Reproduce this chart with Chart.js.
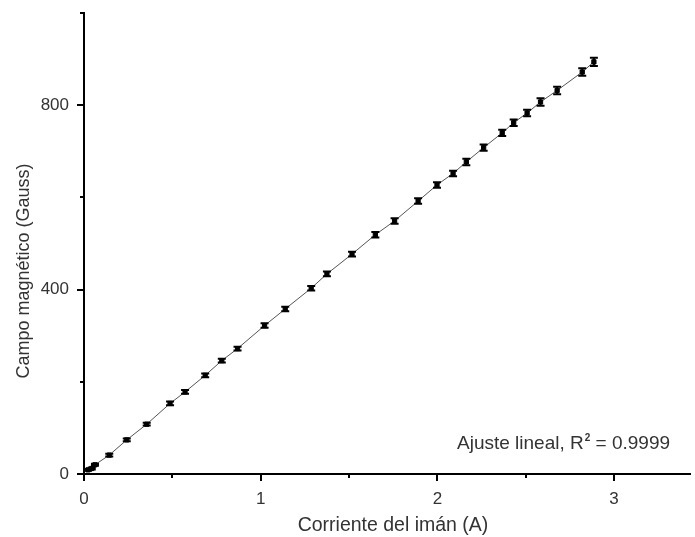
<!DOCTYPE html>
<html>
<head>
<meta charset="utf-8">
<script src="https://cdn.jsdelivr.net/npm/chart.js@4/dist/chart.umd.min.js"></script>
<style>
  html, body { margin: 0; padding: 0; background: #fff; }
  #wrap { width: 695px; height: 537px; }
</style>
</head>
<body>
<div id="wrap"><canvas id="fieldChart" width="695" height="537"></canvas></div>
<script>
// Datos
var corriente = [0.023, 0.044, 0.062, 0.143, 0.242, 0.355, 0.487, 0.572, 0.686, 0.780,
                 0.869, 1.022, 1.139, 1.286, 1.375, 1.517, 1.649, 1.758, 1.891, 1.998,
                 2.089, 2.164, 2.262, 2.367, 2.432, 2.508, 2.584, 2.678, 2.820, 2.886];
var campo = [9, 12, 20, 41, 74, 108, 153, 178, 214, 246,
             272, 322, 358, 403, 434, 477, 519, 549, 592, 627,
             652, 677, 708, 740, 762, 783, 807, 832, 872, 894];
var errorCampo = [2, 2, 2, 3, 3, 3, 4, 4, 4, 4,
                  4, 5, 5, 5, 5, 5, 6, 6, 6, 6,
                  6, 7, 7, 7, 7, 7, 8, 8, 8, 9];

var xMajor = [0, 1, 2, 3];
var xMinor = [0.5, 1.5, 2.5];
var yMajor = [0, 400, 800];
var yMinor = [200, 600, 1000];

var FONT = "'Liberation Sans', Arial, sans-serif";

// ticks hacia afuera, mayores y menores
var tickMarks = {
    id: 'tickMarks',
    afterDraw: function(chart) {
        var c = chart.ctx, xs = chart.scales.x, ys = chart.scales.y;
        var a = chart.chartArea;
        c.save();
        c.strokeStyle = '#000';
        c.lineWidth = 2;
        c.beginPath();
        xMajor.forEach(function(v) { var p = Math.round(xs.getPixelForValue(v)); c.moveTo(p, a.bottom); c.lineTo(p, a.bottom + 7); });
        xMinor.forEach(function(v) { var p = Math.round(xs.getPixelForValue(v)); c.moveTo(p, a.bottom); c.lineTo(p, a.bottom + 4); });
        yMajor.forEach(function(v) { var p = Math.round(ys.getPixelForValue(v)); c.moveTo(a.left, p); c.lineTo(a.left - 7, p); });
        yMinor.forEach(function(v) { var p = Math.round(ys.getPixelForValue(v)); c.moveTo(a.left, p); c.lineTo(a.left - 4, p); });
        c.stroke();

        // titulos de ejes y anotacion
        c.fillStyle = '#333';
        c.textAlign = 'center';
        c.textBaseline = 'alphabetic';
        c.font = '19.5px ' + FONT;
        c.fillText('Corriente del imán (A)', 393, 531);
        c.save();
        c.translate(29, 271);
        c.rotate(-Math.PI / 2);
        c.font = '18px ' + FONT;
        c.fillText('Campo magnético (Gauss)', 0, 0);
        c.restore();

        c.textAlign = 'left';
        var t1 = 'Ajuste lineal, R', t2 = ' = 0.9999';
        var x0 = 457, y0 = 449;
        c.font = '19px ' + FONT;
        c.fillText(t1, x0, y0);
        var w1 = c.measureText(t1).width;
        c.font = 'bold 10px ' + FONT;
        c.fillText('2', x0 + w1 + 1, y0 - 8);
        var w2 = c.measureText('2').width;
        c.font = '19px ' + FONT;
        c.fillText(t2, x0 + w1 + w2 + 1, y0);
        c.restore();
    }
};

// barras de error
var errorBars = {
    id: 'errorBars',
    afterDatasetsDraw: function(chart) {
        var c = chart.ctx, xs = chart.scales.x, ys = chart.scales.y;
        c.save();
        c.strokeStyle = '#000';
        c.lineWidth = 2;
        corriente.forEach(function(xv, i) {
            var px = xs.getPixelForValue(xv);
            var top = ys.getPixelForValue(campo[i] + errorCampo[i]);
            var bot = ys.getPixelForValue(campo[i] - errorCampo[i]);
            c.beginPath();
            c.moveTo(px, top); c.lineTo(px, bot);
            c.moveTo(px - 4, top); c.lineTo(px + 4, top);
            c.moveTo(px - 4, bot); c.lineTo(px + 4, bot);
            c.stroke();
        });
        c.restore();
    }
};

var points = corriente.map(function(x, i) { return { x: x, y: campo[i] }; });

var ctx = document.getElementById('fieldChart').getContext('2d');
var fieldChart = new Chart(ctx, {
    type: 'scatter',
    data: {
        datasets: [{
            label: 'Campo',
            data: points,
            showLine: true,
            borderColor: '#555',
            borderWidth: 1,
            tension: 0,
            pointStyle: 'rect',
            pointRadius: 3,
            pointBackgroundColor: '#000',
            pointBorderColor: '#000',
            pointBorderWidth: 1
        }]
    },
    options: {
        responsive: false,
        animation: false,
        layout: { padding: { top: 13, right: 0, left: 0, bottom: 0 } },
        plugins: {
            legend: { display: false },
            tooltip: { enabled: false }
        },
        scales: {
            x: {
                type: 'linear',
                min: 0,
                max: 3.43,
                afterBuildTicks: function(s) { s.ticks = xMajor.map(function(v) { return { value: v }; }); },
                afterFit: function(s) { s.height = 63; s.paddingLeft = 0; s.paddingRight = 0; },
                grid: { display: false, drawTicks: false },
                border: { display: true, color: '#000', width: 2 },
                ticks: { padding: 15, color: '#333', font: { family: FONT, size: 17 }, maxRotation: 0 }
            },
            y: {
                type: 'linear',
                min: 0,
                max: 1000,
                afterBuildTicks: function(s) { s.ticks = yMajor.map(function(v) { return { value: v }; }); },
                afterFit: function(s) { s.width = 84; s.paddingTop = 0; s.paddingBottom = 0; },
                grid: { display: false, drawTicks: false },
                border: { display: true, color: '#000', width: 2 },
                ticks: { padding: 15, color: '#333', font: { family: FONT, size: 17 } }
            }
        }
    },
    plugins: [errorBars, tickMarks]
});
</script>
</body>
</html>
